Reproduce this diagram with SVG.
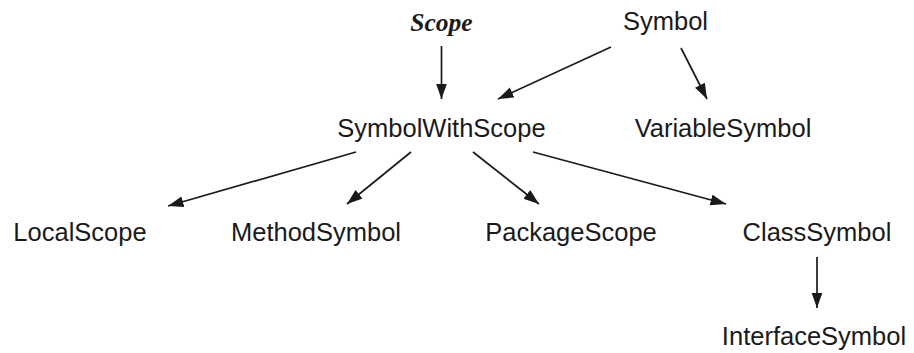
<svg xmlns="http://www.w3.org/2000/svg" width="914" height="353" viewBox="0 0 914 353">
  <defs>
    <style>
      .lbl { font-family: "Liberation Sans", Arial, sans-serif; font-size: 25.5px; fill: #1a1a1a; text-anchor: middle; }
      .abs { font-family: "Liberation Serif", "Times New Roman", serif; font-size: 25.5px; font-style: italic; font-weight: bold; fill: #1a1a1a; text-anchor: middle; }
      .edge { stroke: #1a1a1a; stroke-width: 1.7; fill: none; marker-end: url(#head); }
    </style>
    <marker id="head" markerUnits="userSpaceOnUse" markerWidth="17" markerHeight="12" refX="15.5" refY="5.5" orient="auto">
      <path d="M0,0 L15.5,5.5 L0,11 Z" fill="#1a1a1a"/>
    </marker>
  </defs>
  <rect width="914" height="353" fill="#ffffff"/>

  <g id="connectors">
    <line class="edge" x1="441.5" y1="46" x2="441.5" y2="99"/>
    <line class="edge" x1="611" y1="47" x2="498" y2="99"/>
    <line class="edge" x1="681" y1="48" x2="707" y2="99"/>
    <line class="edge" x1="356" y1="152" x2="168" y2="206"/>
    <line class="edge" x1="411" y1="152" x2="347" y2="204"/>
    <line class="edge" x1="473" y1="152" x2="539" y2="204"/>
    <line class="edge" x1="533" y1="152" x2="726" y2="204"/>
    <line class="edge" x1="817" y1="257" x2="817" y2="308"/>
  </g>

  <g id="scope"><text class="abs" x="441.5" y="31">Scope</text></g>
  <g id="symbol"><text class="lbl" x="665.5" y="29.5">Symbol</text></g>
  <g id="symbol-with-scope"><text class="lbl" x="441.5" y="136.5">SymbolWithScope</text></g>
  <g id="variable-symbol"><text class="lbl" x="723" y="136.5">VariableSymbol</text></g>
  <g id="local-scope"><text class="lbl" x="80" y="240.5">LocalScope</text></g>
  <g id="method-symbol"><text class="lbl" x="316" y="240.5">MethodSymbol</text></g>
  <g id="package-scope"><text class="lbl" x="571" y="240.5">PackageScope</text></g>
  <g id="class-symbol"><text class="lbl" x="817" y="240.5">ClassSymbol</text></g>
  <g id="interface-symbol"><text class="lbl" x="814" y="345">InterfaceSymbol</text></g>
</svg>
